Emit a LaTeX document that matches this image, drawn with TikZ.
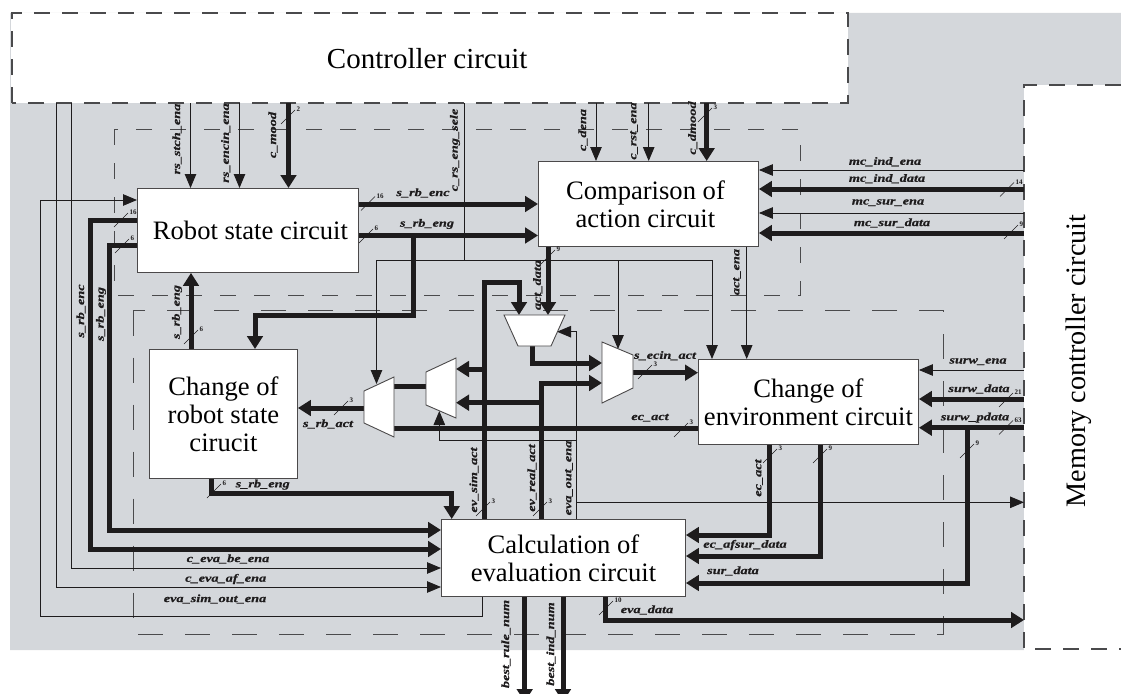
\documentclass[tikz,border=0pt]{standalone}
\usepackage{fontspec}
\setmainfont{Liberation Serif}
\newfontfamily\labf[FakeStretch=1.3,FakeBold=0.6]{Liberation Serif}
\usetikzlibrary{arrows.meta,calc}
\definecolor{bgG}{HTML}{D4D7DB}
\definecolor{ink}{HTML}{1E1C1D}
\definecolor{dsh}{HTML}{4A4A4C}
\newcounter{lb}
\tikzset{
 blk/.style={draw=ink!80,line width=0.9pt,fill=white,align=center,inner sep=0pt,font=\fontsize{26.6}{28}\selectfont},
 muxs/.style={draw=ink!80,line width=0.9pt,fill=white},
 wirew/.style={draw=ink,line width=0.9pt},
 wirea/.style={wirew,-{Triangle[length=14pt,width=11.5pt]}},
 busw/.style={draw=ink,line width=5pt,line join=miter,line cap=butt},
 busa/.style={busw,-{Triangle[length=13pt,width=15.5pt]}},
 sig/.style={inner sep=0pt,text=ink,font=\labf\fontsize{11}{11}\selectfont\bfseries\itshape},
 num/.style={inner sep=0pt,text=ink,font=\fontsize{7}{7}\selectfont\bfseries},
 markl/.style={draw=ink,line width=0.6pt},
 zone/.style={draw=dsh,line width=0.9pt,dash pattern=on 25pt off 22pt},
 zonea/.style={draw=dsh,line width=0.9pt,dash pattern=on 16pt off 18pt},
 edgeb/.style={draw=dsh,line width=1.1pt,dash pattern=on 16pt off 12pt},
}
\newcommand\hsig[3]{\stepcounter{lb}\node[sig] (sg\thelb) at (#1,#2) {#3};}
\newcommand\vsig[3]{\stepcounter{lb}\node[sig,rotate=90] (sg\thelb) at (#1,#2) {#3};}
\newcommand\busmark[3]{\stepcounter{lb}\draw[markl] (#1,#2) -- (#1+14,#2-14);\node[num,anchor=west] (sg\thelb) at (#1+15.5,#2-14.5) {#3};}
\begin{document}
\begin{tikzpicture}[x=1pt,y=-1pt]
\useasboundingbox (0,0) rectangle (1121,693);
\clip (0,0) rectangle (1121,693);
% background
\fill[bgG] (10,13) -- (1121,13) -- (1121,85) -- (1024,85) -- (1024,650) -- (10,650) -- cycle;
% outer units
\node[fill=white,minimum width=837pt,minimum height=90pt,inner sep=0pt,anchor=north west,font=\fontsize{29}{30}\selectfont] (ctrl) at (11,13) {\hspace*{-5pt}Controller circuit};
\draw[edgeb] (12,103) -- (12,13) -- (848,13) -- (848,103) -- cycle;
\fill[white] (1024,85) rectangle (1121,650);
\node[rotate=90,inner sep=0pt,font=\fontsize{28.2}{30}\selectfont] (memt) at (1079,361) {Memory controller circuit};
\coordinate (memw) at (1024,360);
\draw[edgeb] (1121,85) -- (1024,85) -- (1024,649) -- (1121,649);
% dashed zones
\draw[zonea] (114,129) rectangle (800,295);
\draw[zone] (133,310.5) rectangle (943,634.5);
% blocks
\node[blk,anchor=north west,minimum width=221pt,minimum height=84pt] (robot) at (137,188) {\hspace*{5pt}Robot state circuit};
\node[blk,anchor=north west,minimum width=220pt,minimum height=85pt] (comp) at (538,161) {\hspace*{-6pt}Comparison of\\\hspace*{-6pt}action circuit};
\node[blk,anchor=north west,minimum width=148pt,minimum height=129pt] (chrob) at (149,349) {Change of\\robot state\\cirucit};
\node[blk,anchor=north west,minimum width=220pt,minimum height=85pt] (chenv) at (698,359) {Change of\\environment circuit};
\node[blk,anchor=north west,minimum width=244pt,minimum height=77pt] (calc) at (441,519) {Calculation of\\evaluation circuit};
% mux ports
\coordinate (mlTop) at (377.7,384); \coordinate (mlOut) at (364,408); \coordinate (mlIn1) at (394,386.7); \coordinate (mlIn2) at (394,428.7);
\coordinate (mmOut) at (426,386.7); \coordinate (mmIn1) at (456,369); \coordinate (mmIn2) at (456,402.7); \coordinate (mmCtl) at (439.3,411);
\coordinate (mtIn1) at (519,315); \coordinate (mtIn2) at (548,315); \coordinate (mtCtl) at (557,331.7); \coordinate (mtOut) at (532.7,346);
\coordinate (mrCtl) at (618,349); \coordinate (mrIn1) at (602,363); \coordinate (mrIn2) at (602,383); \coordinate (mrOut) at (633,372.7);
\coordinate (bestA) at (524.7,702); \coordinate (bestB) at (563,702);
% thin wires
\draw[wirea] (56,0 |- ctrl.south) -- (56,587) -- (calc.west |- 0,587);
\draw[wirea] (71.5,0 |- ctrl.south) -- (71.5,568) -- (calc.west |- 0,568);
\draw[wirea] (482,0 |- calc.south) -- (482,616) -- (40,616) -- (40,200) -- (robot.west |- 0,200);
\draw[wirea] (190.5,0 |- ctrl.south) -- (190.5,0 |- robot.north);
\draw[wirea] (239.5,0 |- ctrl.south) -- (239.5,0 |- robot.north);
\draw[wirew] (464,0 |- ctrl.south) -- (464,260);
\draw[wirea] (464,260) -- (376.5,260) -- (mlTop -| 376.5,0);
\draw[wirea] (464,260) -- (712,260) -- (712,0 |- chenv.north);
\draw[wirea] (618,260) -- (mrCtl);
\draw[wirea] (596,0 |- ctrl.south) -- (596,0 |- comp.north);
\draw[wirea] (648.7,0 |- ctrl.south) -- (648.7,0 |- comp.north);
\draw[wirea] (746.7,0 |- comp.south) -- (746.7,0 |- chenv.north);
\draw[wirea] (memw |- 0,170) -- (comp.east |- 0,170);
\draw[wirea] (memw |- 0,213) -- (comp.east |- 0,213);
\draw[wirea] (memw |- 0,370) -- (chenv.east |- 0,370);
\draw[wirea] (576.7,0 |- calc.north) -- (576.7,331.7) -- (mtCtl);
\draw[wirea] (576.7,440.7) -- (439.3,440.7) -- (mmCtl);
\draw[wirea] (576.7,502.3) -- (memw |- 0,502.3);
% buses
\draw[busa] (288.5,0 |- ctrl.south) -- (288.5,0 |- robot.north);
\draw[busa] (706.7,0 |- ctrl.south) -- (706.7,0 |- comp.north);
\draw[busa] (robot.east |- 0,204) -- (comp.west |- 0,204);
\draw[busa] (robot.east |- 0,235.5) -- (comp.west |- 0,235.5);
\draw[busa] (413,235.5) -- (413,315) -- (255,315) -- (255,0 |- chrob.north);
\draw[busa] (robot.west |- 0,220) -- (90,220) -- (90,549) -- (calc.west |- 0,549);
\draw[busa] (robot.west |- 0,245.7) -- (109,245.7) -- (109,530) -- (calc.west |- 0,530);
\draw[busa] (191,0 |- chrob.north) -- (191,0 |- robot.south);
\draw[busa] (548,0 |- comp.south) -- (mtIn2);
\draw[busa] (memw |- 0,189) -- (comp.east |- 0,189);
\draw[busa] (memw |- 0,233) -- (comp.east |- 0,233);
\draw[busa] (memw |- 0,399) -- (chenv.east |- 0,399);
\draw[busa] (memw |- 0,427.7) -- (chenv.east |- 0,427.7);
\draw[busa] (967,427.7) -- (967,583) -- (calc.east |- 0,583);
\draw[busa] (769,0 |- chenv.south) -- (769,535) -- (calc.east |- 0,535);
\draw[busa] (820.7,0 |- chenv.south) -- (820.7,556) -- (calc.east |- 0,556);
\draw[busw] (chenv.west |- mlIn2) -- (mlIn2);
\draw[busa] (mlOut) -- (chrob.east |- mlOut);
\draw[busw] (mmOut) -- (mlIn1);
\draw[busa] (484,0 |- calc.north) -- (484,282.3) -- (519,282.3) -- (mtIn1);
\draw[busa] (484,369) -- (mmIn1);
\draw[busa] (541,0 |- calc.north) -- (541,383) -- (mrIn2);
\draw[busa] (541,402.7) -- (mmIn2);
\draw[busa] (mtOut) -- (532.7,363) -- (mrIn1);
\draw[busa] (mrOut) -- (chenv.west |- mrOut);
\draw[busa] (211.7,0 |- chrob.south) -- (211.7,493) -- (451.7,493) -- (451.7,0 |- calc.north);
\draw[busa] (524.7,0 |- calc.south) -- (bestA);
\draw[busa] (563,0 |- calc.south) -- (bestB);
\draw[busa] (605.7,0 |- calc.south) -- (605.7,620) -- (memw |- 0,620);
% muxes
\draw[muxs] (364,391) -- (394,377) -- (394,437) -- (364,423) -- cycle;
\draw[muxs] (426,372) -- (456,358) -- (456,418) -- (426,405) -- cycle;
\draw[muxs] (504,315) -- (565,315) -- (551,346) -- (518,346) -- cycle;
\draw[muxs] (602,342) -- (633,355) -- (633,388) -- (602,403) -- cycle;
% signal names
\vsig{177}{139}{rs\_stch\_ena}
\vsig{225.7}{143}{rs\_encin\_ena}
\vsig{273}{135}{c\_mood}
\vsig{81}{311}{s\_rb\_enc}
\vsig{101}{314}{s\_rb\_eng}
\vsig{177}{312}{s\_rb\_eng}
\vsig{455}{150}{c\_rs\_eng\_sele}
\hsig{423}{193}{s\_rb\_enc}
\hsig{427}{224}{s\_rb\_eng}
\vsig{583}{130}{c\_dena}
\vsig{634}{131}{c\_rst\_ena}
\vsig{692.7}{128}{c\_dmood}
\vsig{537.7}{285}{act\_data}
\vsig{737}{272}{act\_ena}
\hsig{885}{161.7}{mc\_ind\_ena}
\hsig{887}{178.7}{mc\_ind\_data}
\hsig{888}{202.7}{mc\_sur\_ena}
\hsig{892}{223}{mc\_sur\_data}
\hsig{978}{361.7}{surw\_ena}
\hsig{979}{389}{surw\_data}
\hsig{975}{417.7}{surw\_pdata}
\hsig{665}{355.7}{s\_ecin\_act}
\hsig{650}{417.7}{ec\_act}
\hsig{328}{424}{s\_rb\_act}
\hsig{262.7}{484.7}{s\_rb\_eng}
\hsig{228}{559}{c\_eva\_be\_ena}
\hsig{225.7}{579}{c\_eva\_af\_ena}
\hsig{215}{599}{eva\_sim\_out\_ena}
\vsig{474}{480}{ev\_sim\_act}
\vsig{532}{478}{ev\_real\_act}
\vsig{569}{478}{eva\_out\_ena}
\vsig{759}{478}{ec\_act}
\hsig{745}{545}{ec\_afsur\_data}
\hsig{733}{571}{sur\_data}
\hsig{647}{610}{eva\_data}
\vsig{506}{644}{best\_rule\_num}
\vsig{551}{644}{best\_ind\_num}
% bus widths
\busmark{281}{124}{2}
\busmark{361}{210.5}{16}
\busmark{359}{243}{6}
\busmark{114}{227}{16}
\busmark{115}{253}{6}
\busmark{184}{344}{6}
\busmark{541}{264}{9}
\busmark{698}{122}{3}
\busmark{1000}{196.5}{14}
\busmark{1004}{239}{9}
\busmark{999}{407}{21}
\busmark{999}{434.5}{63}
\busmark{960}{458}{9}
\busmark{813}{463}{9}
\busmark{763}{463}{3}
\busmark{674}{437}{3}
\busmark{638}{379}{3}
\busmark{334}{415}{3}
\busmark{207}{498}{6}
\busmark{476}{516}{3}
\busmark{533}{516}{3}
\busmark{599}{615}{10}
\end{tikzpicture}
\end{document}
